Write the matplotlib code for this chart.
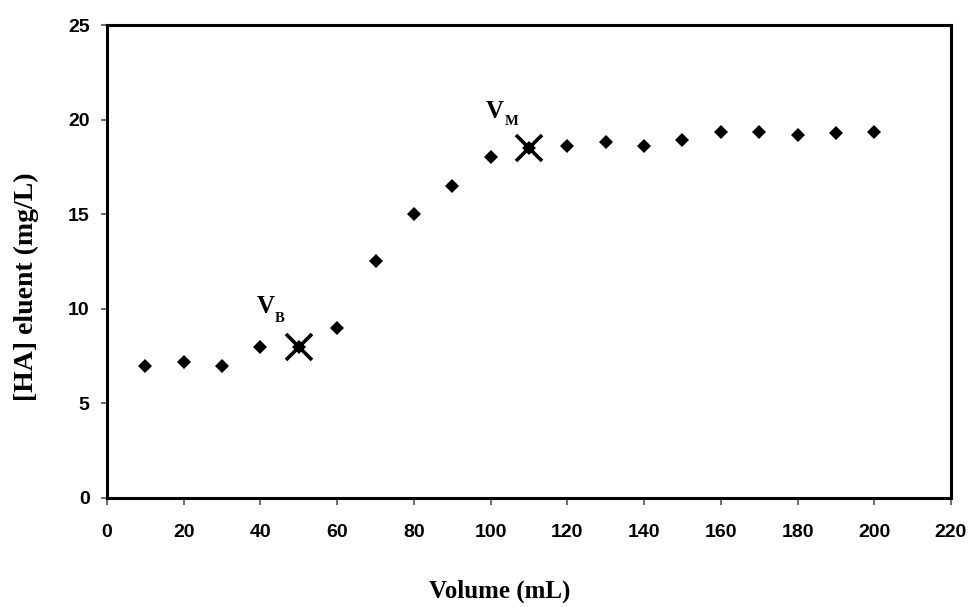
import matplotlib
matplotlib.use("Agg")
import matplotlib.pyplot as plt

# Eluent concentration versus collected volume
volume = [10, 20, 30, 40, 50, 60, 70, 80, 90, 100,
          110, 120, 130, 140, 150, 160, 170, 180, 190, 200]
conc = [7.0, 7.2, 7.0, 8.0, 8.0, 9.0, 12.5, 15.0, 16.5, 18.0,
        18.5, 18.6, 18.8, 18.6, 18.9, 19.35, 19.35, 19.2, 19.3, 19.35]

# Breakthrough (V_B) and saturation (V_M) points
mark_volume = [50, 110]
mark_conc = [8.0, 18.5]
mark_main = ["V", "V"]
mark_sub = ["B", "M"]

x_ticks = list(range(0, 221, 20))
y_ticks = list(range(0, 26, 5))

fig = plt.figure(figsize=(9.71, 6.07), dpi=100)
ax = fig.add_axes([0.1102, 0.1796, 0.8692, 0.7792])

ax.plot(volume, conc, linestyle="none", marker="D", markersize=7.3,
        color="black", markeredgewidth=0)
ax.plot(mark_volume, mark_conc, linestyle="none", marker="x",
        markersize=18.5, markeredgewidth=2.6, color="black")

serif = "Liberation Serif"
# label offsets (points) relative to each marked point
main_off = [(-30, 24.5), (-31.5, 21.6)]
sub_off = [(-17.2, 18), (-17.2, 16.6)]
for xv, yv, m, s, mo, so in zip(mark_volume, mark_conc, mark_main, mark_sub,
                                main_off, sub_off):
    ax.annotate(m, xy=(xv, yv), xytext=mo, textcoords="offset points",
                fontsize=18, fontweight="bold", family=serif,
                ha="left", va="baseline")
    ax.annotate(s, xy=(xv, yv), xytext=so, textcoords="offset points",
                fontsize=10.5, fontweight="bold", family=serif,
                ha="left", va="baseline")

ax.set_xlim(0, 220)
ax.set_ylim(0, 25)
ax.set_xticks(x_ticks)
ax.set_yticks(y_ticks)

for sp in ax.spines.values():
    sp.set_linewidth(2.2)
    sp.set_color("black")

ax.tick_params(axis="x", direction="out", length=5, width=1.2, color="#555555",
               pad=14, labelsize=14)
ax.tick_params(axis="y", direction="out", length=4.5, width=1.2, color="#555555",
               pad=8, labelsize=14)
for lab in ax.get_xticklabels() + ax.get_yticklabels():
    lab.set_fontfamily("Liberation Sans")
    lab.set_fontweight("bold")

fig.text(0.515, 0.016, "Volume (mL)", ha="center", va="baseline",
         fontsize=18, fontweight="bold", family=serif)
fig.text(0.027, 0.527, "[HA] eluent (mg/L)", ha="center", va="center",
         rotation=90, fontsize=20, fontweight="bold", family=serif)

fig.savefig("out.png", dpi=100)
